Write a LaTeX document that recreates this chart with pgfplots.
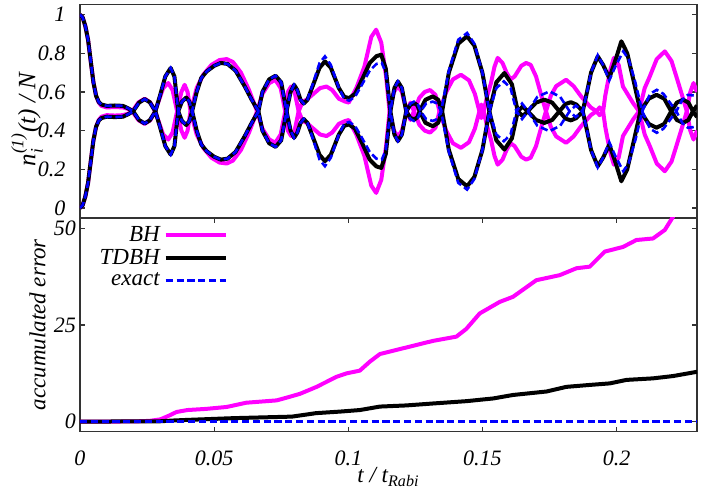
\documentclass[border=0pt]{standalone}
\usepackage{fontspec}
\setmainfont{Liberation Serif}
\usepackage{amsmath}
\usepackage{pgfplots}
\usepackage{pgfplotstable}
\pgfplotsset{compat=1.18}
\definecolor{bhmag}{RGB}{255,0,255}
\definecolor{exblue}{RGB}{0,0,255}

% upper branch of n_i/N (the lower one is 1-u)
\pgfplotstableread{
t u
0 1.000
0.001 0.985
0.002 0.94
0.003 0.87
0.004 0.76
0.005 0.65
0.006 0.58
0.007 0.545
0.008 0.528
0.010 0.52
0.013 0.522
0.016 0.52
0.018 0.512
0.0195 0.5
0.0218 0.546
0.0241 0.565
0.0262 0.546
0.028 0.5
0.0295 0.56
0.031 0.62
0.0329 0.646
0.0345 0.61
0.0362 0.5
0.0378 0.6
0.039 0.637
0.0401 0.6
0.0412 0.5
0.0435 0.62
0.046 0.69
0.049 0.74
0.052 0.765
0.0547 0.77
0.057 0.755
0.060 0.7
0.063 0.61
0.066 0.5
0.068 0.59
0.0705 0.645
0.0728 0.663
0.0748 0.62
0.0765 0.5
0.0775 0.6
0.0787 0.628
0.080 0.6
0.0815 0.5
0.083 0.55
0.0845 0.56
0.087 0.59
0.0895 0.62
0.0919 0.628
0.094 0.61
0.0965 0.565
0.0987 0.551
0.1002 0.545
0.103 0.62
0.106 0.73
0.1086 0.885
0.1104 0.922
0.1123 0.855
0.1141 0.68
0.1154 0.5
0.117 0.6
0.1185 0.63
0.120 0.6
0.1218 0.5
0.1232 0.545
0.1245 0.5
0.1265 0.57
0.1285 0.6
0.1305 0.61
0.1325 0.585
0.134 0.5
0.1365 0.6
0.139 0.665
0.142 0.689
0.145 0.66
0.1472 0.59
0.1489 0.5
0.1496 0.535
0.1505 0.5
0.1518 0.58
0.1532 0.646
0.1545 0.73
0.1557 0.776
0.1575 0.75
0.159 0.7
0.1605 0.665
0.162 0.68
0.1645 0.735
0.1663 0.75
0.168 0.74
0.170 0.68
0.172 0.58
0.1737 0.5
0.1755 0.58
0.1775 0.63
0.1812 0.663
0.184 0.63
0.1868 0.577
0.1904 0.52
0.1925 0.5
0.1937 0.52
0.195 0.5
0.1958 0.58
0.1967 0.646
0.1978 0.72
0.1990 0.776
0.2008 0.74
0.2024 0.628
0.2062 0.542
0.2084 0.5
0.2105 0.62
0.2124 0.68
0.2150 0.77
0.218 0.81
0.2205 0.76
0.2223 0.68
0.2245 0.58
0.2262 0.5
0.2275 0.6
0.2287 0.646
0.230 0.6
}\bhocc

\pgfplotstableread{
t u
0 1.000
0.001 0.985
0.002 0.94
0.003 0.87
0.004 0.76
0.005 0.65
0.006 0.58
0.007 0.548
0.008 0.535
0.010 0.528
0.013 0.53
0.016 0.528
0.018 0.515
0.0198 0.5
0.022 0.545
0.0241 0.563
0.026 0.547
0.0281 0.5
0.0298 0.58
0.0318 0.68
0.0338 0.724
0.0352 0.68
0.0366 0.5
0.038 0.55
0.0396 0.571
0.0408 0.55
0.0418 0.5
0.0435 0.6
0.0452 0.672
0.0472 0.706
0.050 0.735
0.0525 0.75
0.055 0.745
0.058 0.71
0.0614 0.629
0.064 0.56
0.0665 0.5
0.068 0.6
0.0705 0.665
0.0729 0.684
0.075 0.65
0.077 0.5
0.0785 0.6
0.0798 0.637
0.081 0.61
0.0822 0.56
0.0834 0.54
0.0848 0.56
0.087 0.64
0.0893 0.725
0.0913 0.758
0.0935 0.725
0.0965 0.62
0.0985 0.575
0.1003 0.568
0.1025 0.59
0.105 0.66
0.108 0.75
0.1105 0.785
0.1123 0.793
0.114 0.72
0.1157 0.5
0.1172 0.62
0.1185 0.654
0.1200 0.62
0.1216 0.5
0.1232 0.535
0.1247 0.542
0.1258 0.53
0.1266 0.5
0.1288 0.56
0.1315 0.577
0.1335 0.56
0.135 0.5
0.1375 0.7
0.141 0.85
0.1443 0.888
0.147 0.84
0.150 0.7
0.1526 0.5
0.1552 0.65
0.1582 0.698
0.161 0.64
0.1632 0.5
0.165 0.525
0.1669 0.5
0.170 0.545
0.1731 0.56
0.176 0.545
0.1787 0.5
0.181 0.538
0.183 0.547
0.185 0.535
0.1874 0.5
0.189 0.6
0.1905 0.7
0.193 0.784
0.195 0.74
0.1973 0.672
0.1995 0.76
0.2018 0.862
0.204 0.8
0.2065 0.65
0.2089 0.5
0.212 0.565
0.2149 0.585
0.2178 0.565
0.2204 0.5
0.2225 0.545
0.2248 0.56
0.2268 0.545
0.2285 0.5
0.230 0.53
}\tdbhocc

\pgfplotstableread{
t u
0 1.000
0.001 0.985
0.002 0.94
0.003 0.87
0.004 0.76
0.005 0.65
0.006 0.58
0.007 0.548
0.008 0.535
0.010 0.528
0.013 0.53
0.016 0.528
0.018 0.515
0.0198 0.5
0.022 0.545
0.0241 0.563
0.026 0.547
0.0281 0.5
0.0298 0.58
0.0318 0.68
0.0338 0.724
0.0352 0.68
0.0366 0.5
0.038 0.55
0.0396 0.571
0.0408 0.55
0.0418 0.5
0.0435 0.6
0.0452 0.672
0.0472 0.706
0.050 0.735
0.0525 0.75
0.055 0.745
0.058 0.71
0.0614 0.629
0.064 0.56
0.0665 0.5
0.068 0.6
0.0705 0.665
0.0729 0.684
0.075 0.65
0.077 0.5
0.0785 0.6
0.0798 0.637
0.081 0.61
0.0822 0.56
0.0834 0.54
0.0848 0.56
0.087 0.65
0.0893 0.75
0.0913 0.784
0.0935 0.74
0.0965 0.62
0.0985 0.565
0.1003 0.555
0.1025 0.575
0.105 0.635
0.108 0.71
0.1105 0.745
0.1125 0.75
0.114 0.7
0.1157 0.5
0.1172 0.62
0.1185 0.654
0.1200 0.62
0.1216 0.5
0.1232 0.54
0.1245 0.55
0.1258 0.54
0.127 0.5
0.129 0.54
0.1315 0.55
0.1332 0.54
0.1346 0.5
0.1375 0.71
0.141 0.87
0.1443 0.905
0.147 0.85
0.150 0.7
0.1526 0.5
0.1552 0.62
0.1580 0.655
0.1605 0.62
0.1627 0.5
0.1648 0.54
0.167 0.5
0.1705 0.575
0.1750 0.603
0.1790 0.575
0.1825 0.5
0.1848 0.53
0.1874 0.5
0.189 0.6
0.1905 0.7
0.193 0.79
0.195 0.74
0.1973 0.66
0.1995 0.73
0.2025 0.81
0.2045 0.77
0.207 0.65
0.2096 0.5
0.2125 0.59
0.215 0.611
0.2175 0.59
0.2223 0.5
0.2245 0.56
0.2266 0.585
0.230 0.58
}\exactocc

\pgfplotstableread{
t e
0 0
0.020 0.05
0.026 0.2
0.030 0.6
0.033 1.5
0.036 2.5
0.040 3.0
0.047 3.3
0.0547 3.8
0.058 4.3
0.062 4.9
0.0733 5.5
0.077 6.2
0.082 7.2
0.0882 9.0
0.0956 11.6
0.0994 12.5
0.1043 13.2
0.108 15.5
0.1118 17.5
0.1217 19.2
0.1316 20.9
0.1403 22.0
0.1440 24.0
0.1490 28.0
0.1565 31.0
0.1614 32.3
0.1701 36.6
0.1788 37.9
0.1851 39.7
0.1900 40.1
0.1956 44.0
0.2024 45.2
0.2074 47.0
0.2136 47.4
0.2180 49.6
0.2215 53.5
}\bherr

\pgfplotstableread{
t e
0 0
0.030 0.1
0.035 0.3
0.040 0.45
0.057 0.9
0.079 1.3
0.088 2.2
0.0969 2.6
0.1043 3.0
0.1118 3.9
0.1217 4.2
0.1316 4.7
0.144 5.3
0.154 6.0
0.1614 6.9
0.1739 7.8
0.1813 9.0
0.190 9.5
0.1975 9.9
0.2037 10.8
0.2136 11.2
0.2211 11.8
0.230 12.9
}\tdbherr

\pgfplotstableread{
t e
0 0
0.230 0
}\exacterr

\pgfplotsset{
  panel/.style={
    scale only axis, width=308.5pt, height=106.85pt,
    xmin=0, xmax=0.23,
    axis line style={black!80, line width=0.7pt},
    tick align=inside, major tick length=2.5pt,
    tick style={black!80, line width=0.6pt},
    tick label style={font=\fontsize{11}{13}\selectfont\itshape},
    label style={font=\fontsize{11.5}{13}\selectfont\itshape},
    /pgf/number format/assume math mode=true,
  },
  bh/.style={bhmag, line width=2pt, line join=round},
  tdbh/.style={black, line width=2pt, line join=round},
  ex/.style={exblue, line width=1.3pt, dash pattern=on 3.6pt off 1.8pt},
}

\begin{document}
\begin{tikzpicture}
\useasboundingbox (0pt,0pt) rectangle (350.5pt,245.5pt);

\begin{axis}[panel,
  at={(40pt,136.5pt)}, anchor=south west,
  ymin=-0.0518, ymax=1.0534,
  xtick=\empty,
  ytick={0,0.2,0.4,0.6,0.8,1},
  yticklabels={0,0.2,0.4,0.6,0.8,1},
  yticklabel style={xshift=-3.8pt},
  ylabel={\textit{n}$_{\textit{i}}^{\textit{(1)}}$(t) / N},
  ylabel style={at={(axis description cs:-0.086,0.46)}, anchor=center,
    font=\fontsize{12.5}{14}\selectfont\itshape},
]
\addplot[bh] table[x=t, y=u] {\bhocc};
\addplot[bh] table[x=t, y expr=1-\thisrow{u}] {\bhocc};
\addplot[tdbh] table[x=t, y=u] {\tdbhocc};
\addplot[tdbh] table[x=t, y expr=1-\thisrow{u}] {\tdbhocc};
\addplot[ex] table[x=t, y=u] {\exactocc};
\addplot[ex] table[x=t, y expr=1-\thisrow{u}] {\exactocc};
\end{axis}

\begin{axis}[panel,
  at={(40pt,29.65pt)}, anchor=south west,
  ymin=-2.6, ymax=52.7,
  xtick={0,0.05,0.1,0.15,0.2},
  xticklabels={0,0.05,0.1,0.15,0.2},
  xticklabel style={yshift=-6pt},
  ytick={0,25,50},
  yticklabels={0,25,50},
  yticklabel style={xshift=1.5pt},
  xlabel={t / t$_{\textit{Rabi}}$},
  xlabel style={at={(axis description cs:0.5,0)}, anchor=north, yshift=-14.5pt},
  ylabel={accumulated error},
  ylabel style={at={(axis description cs:-0.069,0.5)}, anchor=center},
  legend cell align=right,
  legend plot pos=right,
  legend image code/.code={\draw[#1] (0pt,0pt) -- (30pt,0pt);},
  legend style={at={(axis description cs:0.015,1)}, anchor=north west,
    draw=none, fill=none, font=\fontsize{11.5}{13}\selectfont\itshape,
    row sep=-1.5pt},
]
\addplot[bh] table[x=t, y=e] {\bherr};
\addlegendentry{BH}
\addplot[tdbh] table[x=t, y=e] {\tdbherr};
\addlegendentry{TDBH}
\addplot[ex] table[x=t, y=e] {\exacterr};
\addlegendentry{exact}
\end{axis}
\end{tikzpicture}
\end{document}
